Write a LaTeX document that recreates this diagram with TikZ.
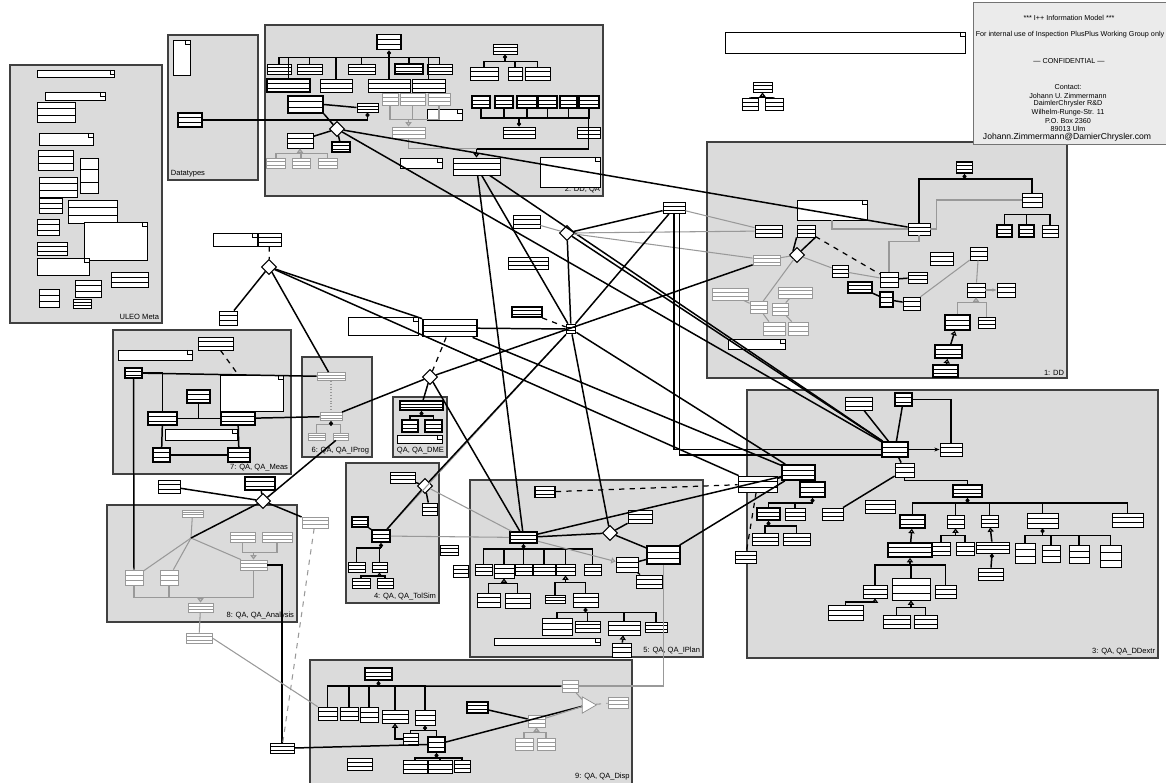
\documentclass[tikz,border=0pt]{standalone}
\usepackage{fontspec}
\setmainfont{Liberation Sans}
\usetikzlibrary{shapes.geometric,arrows.meta,calc}

\begin{document}
\begin{tikzpicture}[
    x=0.02cm, y=-0.02cm,
    pkg/.style={draw=black!75, line width=0.6pt, fill=black!14},
    plabel/.style={anchor=south east, inner sep=1.5pt, font=\fontsize{4.3}{5}\selectfont},
    info/.style={inner sep=0pt, font=\fontsize{4.1}{4.9}\selectfont},
    ht/.style={minimum height=#1*0.02cm},
    clsline/.style={black},
    cls/.style={draw, line width=0.45pt, fill=white, inner sep=0pt, minimum width=#1*0.02cm, minimum height=0.24cm,
        path picture={
            \draw[line width=0.3pt, clsline] ($(path picture bounding box.north west)!0.33!(path picture bounding box.south west)$) -- ($(path picture bounding box.north east)!0.33!(path picture bounding box.south east)$);
            \draw[line width=0.3pt, clsline] ($(path picture bounding box.north west)!0.68!(path picture bounding box.south west)$) -- ($(path picture bounding box.north east)!0.68!(path picture bounding box.south east)$);
        }},
    cls/.default=20,
    bcls/.style={cls=#1, line width=1pt},
    bcls/.default=20,
    gcls/.style={cls=#1, draw=black!40, clsline/.style={black!40}},
    gcls/.default=20,
    note/.style={draw, line width=0.45pt, fill=white, inner sep=0pt, minimum width=#1*0.02cm, minimum height=0.2cm,
        path picture={\draw[line width=0.3pt] ([xshift=-2.5pt]path picture bounding box.north east) -- ++(0,-2.5pt) -- ++(2.5pt,0);}},
    note/.default=40,
    dia/.style={diamond, draw, line width=0.6pt, fill=white, inner sep=0pt, minimum size=0.3cm},
    gtri/.style={isosceles triangle, isosceles triangle apex angle=60, draw=black!45, fill=white, inner sep=0pt, minimum height=0.28cm},
    con/.style={line width=0.85pt},
    gcon/.style={draw=black!40, line width=0.6pt},
    dcon/.style={dashed, line width=0.7pt},
    inh/.style={-{Triangle[open,length=2.5pt,width=3.5pt]}},
    comp/.style={-{Diamond[length=3pt,width=2.5pt]}}
]
    \useasboundingbox (0,0) rectangle (1166,783);

    % --- packages ---
    \draw[pkg] (10,65) rectangle (162,323);
    \node[plabel] (l-uleo) at (162,323) {ULEO Meta};
    \draw[pkg] (168,35) rectangle (258,180);
    \node[plabel, anchor=south west] (l-dt) at (168,180) {Datatypes};
    \draw[pkg] (265,25) rectangle (603,196);
    \node[plabel] (l-p2) at (603,196) {2: DD, QA};
    \draw[pkg] (707,142) rectangle (1067,378);
    \node[plabel] (l-p1) at (1067,378) {1: DD};
    \draw[pkg] (747,390) rectangle (1158,658);
    \node[plabel] (l-p3) at (1158,658) {3: QA, QA\_DDextr};
    \draw[pkg] (113,330) rectangle (291,474);
    \node[plabel] (l-p7) at (291,474) {7: QA, QA\_Meas};
    \draw[pkg] (302,357) rectangle (372,457);
    \node[plabel] (l-p6) at (372,457) {6: QA, QA\_IProg};
    \draw[pkg] (393,397) rectangle (447,457);
    \node[plabel] (l-dme) at (447,457) {QA, QA\_DME};
    \draw[pkg] (346,463) rectangle (439,603);
    \node[plabel] (l-p4) at (439,603) {4: QA, QA\_TolSim};
    \draw[pkg] (107,505) rectangle (297,622);
    \node[plabel] (l-p8) at (297,622) {8: QA, QA\_Analysis};
    \draw[pkg] (470,480) rectangle (703,657);
    \node[plabel] (l-p5) at (703,657) {5: QA, QA\_IPlan};
    \draw[pkg] (310,660) rectangle (632,795);
    \node[plabel, anchor=north east, inner sep=0pt] (l-p9) at (630,773) {9: QA, QA\_Disp};

    % --- info box ---
    \draw[draw=black!55, fill=black!8] (973,2) rectangle (1180,144);
    \node[info] (inf1) at (1069,18) {*** I++ Information Model ***};
    \node[info] (inf2) at (1070,35) {For internal use of Inspection PlusPlus Working Group only};
    \node[info] (inf3) at (1069,61) {--- CONFIDENTIAL ---};
    \node[info] (inf4) at (1068,87) {Contact:};
    \node[info] (inf5) at (1068,95.5) {Johann U. Zimmermann};
    \node[info] (inf6) at (1068,104) {DaimlerChrysler R\&D};
    \node[info] (inf7) at (1068,112.5) {Wilhelm-Runge-Str. 11};
    \node[info] (inf8) at (1068,121) {P.O. Box 2360};
    \node[info] (inf9) at (1068,129) {89013 Ulm};
    \node[info, font=\fontsize{4.9}{5.5}\selectfont] (inf10) at (1067,137.5) {Johann.Zimmermann@DamierChrysler.com};

    % --- top note and small tree ---
    \node[note=240, ht=21] (n-top) at (845,42.5) {};
    \node[cls=19, ht=10] (g1) at (762.5,87) {};
    \node[cls=16] (g2) at (750,104) {};
    \node[cls=18] (g3) at (774,104) {};

    % --- ULEO Meta ---
    \node[note=77, ht=7] (u-n1) at (76,73.5) {};
    \node[note=60, ht=8] (u-n2) at (75,96) {};
    \node[cls=38, ht=20] (u1) at (56,112) {};
    \node[note=54, ht=12] (u-n3) at (66,139) {};
    \node[cls=35, ht=20] (u2) at (55.5,160) {};
    \node[cls=18, ht=35] (u3) at (89,175.5) {};
    \node[cls=38, ht=20] (u4) at (58,187) {};
    \node[cls=23, ht=15] (u5) at (50.5,205.5) {};
    \node[cls=49, ht=23] (u6) at (92.5,211.5) {};
    \node[note=63, ht=38] (u-n4) at (115.5,241) {};
    \node[cls=22, ht=16] (u7) at (48,227) {};
    \node[cls=30, ht=13] (u8) at (52,248.5) {};
    \node[note=52, ht=17] (u-n5) at (63,266.5) {};
    \node[cls=37, ht=15] (u9) at (129.5,279.5) {};
    \node[cls=26, ht=17] (u10) at (88,288.5) {};
    \node[cls=20, ht=18] (u11) at (49,298) {};
    \node[cls=18, ht=9] (u12) at (82,303.5) {};

    % --- Datatypes ---
    \node[note=17, ht=35] (dt-n) at (181.5,57.5) {};
    \node[bcls=24, ht=14] (dt1) at (190,120) {};

    % --- 2: DD, QA ---
    \node[bcls=24, ht=15] (a0) at (389,42) {};
    \node[cls=24, ht=10] (a1) at (279,69) {};
    \node[cls=25, ht=10] (a2) at (309.5,69) {};
    \node[cls=27, ht=10] (a3) at (361.5,69) {};
    \node[bcls=28, ht=10] (a4) at (409,69) {};
    \node[cls=25, ht=10] (a5) at (439.5,69) {};
    \node[bcls=43, ht=13] (a6) at (288.5,85.5) {};
    \node[cls=32, ht=13] (a7) at (336,85.5) {};
    \node[cls=42, ht=13] (a8) at (389,85.5) {};
    \node[cls=33, ht=13] (a9) at (428.5,85.5) {};
    \node[bcls=35, ht=17] (a10) at (305.5,104.5) {};
    \node[cls=21, ht=9] (a11) at (367.5,107.5) {};
    \node[dia] (d2) at (337,129) {};
    \node[cls=26, ht=15] (a12) at (300,140.5) {};
    \node[bcls=18, ht=10] (a13) at (341,147) {};
    \node[gcls=19, ht=10] (a14) at (276,163) {};
    \node[gcls=18, ht=10] (a15) at (301,163) {};
    \node[gcls=19, ht=10] (a16) at (327.5,163) {};
    \node[gcls=16] (a17) at (390,99) {};
    \node[gcls=25] (a18) at (412.5,99) {};
    \node[gcls=22] (a19) at (439,99) {};
    \node[note=35, ht=11] (a-n1) at (444.5,114.5) {};
    \node[gcls=33, ht=11] (a20) at (408.5,132.5) {};
    \node[note=42, ht=10] (a-n2) at (421,163) {};
    \node[cls=47, ht=17] (a21) at (476.5,166.5) {};
    \node[note=60, ht=30] (a-n3) at (570,172) {};
    \node[cls=24, ht=10] (a22) at (505,49) {};
    \node[cls=28, ht=13] (a23) at (484,73.5) {};
    \node[cls=14, ht=13] (a24) at (515,73.5) {};
    \node[cls=25, ht=13] (a25) at (537.5,73.5) {};
    \node[bcls=18] (a26) at (481,102) {};
    \node[bcls=18] (a27) at (504,102) {};
    \node[bcls=20] (a28) at (527,102) {};
    \node[bcls=19] (a29) at (547.5,102) {};
    \node[bcls=17] (a30) at (568.5,102) {};
    \node[bcls=20] (a31) at (589,102) {};
    \node[cls=32, ht=11] (a32) at (519,132.5) {};
    \node[cls=23, ht=11] (a33) at (588.5,132.5) {};

    % --- middle ---
    \node[bcls=9, ht=9] (hb) at (571,329) {};
    \node[dia] (dx) at (567,233) {};
    \node[cls=27, ht=13] (m-x) at (526.5,221.5) {};
    \node[cls=40] (n-x) at (528,263) {};
    \node[bcls=30, ht=10] (b-x) at (527,312) {};
    \node[cls=22, ht=11] (h1) at (674,208) {};
    \node[bcls=54, ht=17] (h2) at (450,328) {};
    \node[note=70, ht=18] (n-h) at (383,326) {};
    \node[dia] (dl) at (269,267) {};
    \node[cls=23, ht=13] (k1) at (269.5,239.5) {};
    \node[note=44, ht=13] (n-k) at (235,239.5) {};
    \node[cls=18, ht=14] (k2) at (228,318) {};

    % --- 1: DD ---
    \node[bcls=16, ht=11] (t1) at (964.5,167.5) {};
    \node[cls=22] (c1) at (919,229) {};
    \node[cls=20, ht=14] (s1) at (1032,200) {};
    \node[bcls=15] (s2) at (1004.5,231) {};
    \node[bcls=15] (s3) at (1026.5,231) {};
    \node[cls=16] (s4) at (1050,231) {};
    \node[note=70, ht=20] (n-d1) at (832,210) {};
    \node[cls=27] (d1a) at (768.5,231) {};
    \node[cls=18] (d1b) at (806,231) {};
    \node[dia] (dd) at (797,255) {};
    \node[gcls=27, ht=10] (d1c) at (766.5,260) {};
    \node[cls=16] (d1d) at (840,271) {};
    \node[cls=18, ht=15] (d1e) at (889,279.5) {};
    \node[cls=19, ht=11] (d1f) at (917.5,277.5) {};
    \node[bcls=24, ht=11] (d1g) at (860,287.5) {};
    \node[bcls=13, ht=15] (d1h) at (886.5,299.5) {};
    \node[cls=17, ht=13] (d1i) at (911.5,303.5) {};
    \node[cls=23, ht=13] (d1j) at (941.5,258.5) {};
    \node[cls=17, ht=13] (d1k) at (978.5,253.5) {};
    \node[cls=18, ht=14] (d1l) at (976,290) {};
    \node[cls=18, ht=14] (d1m) at (1006,290) {};
    \node[cls=17, ht=11] (d1n) at (986.5,322.5) {};
    \node[bcls=25, ht=15] (d1o) at (957.5,322.5) {};
    \node[bcls=27, ht=13] (d1p) at (948.5,351.5) {};
    \node[bcls=25] (d1q) at (945.5,371) {};
    \node[gcls=36] (d1r) at (730,294) {};
    \node[gcls=34, ht=11] (d1s) at (795,292.5) {};
    \node[gcls=17] (d1t) at (758.5,307.5) {};
    \node[gcls=16] (d1u) at (780,309) {};
    \node[gcls=22, ht=13] (d1v) at (774,328.5) {};
    \node[gcls=20, ht=13] (d1w) at (798,328.5) {};
    \node[note=57] (n-d2) at (756.5,344) {};

    % --- 3: QA, QA_DDextr ---
    \node[cls=27, ht=13] (q-a) at (858.5,403.5) {};
    \node[bcls=17, ht=13] (q-b) at (903.5,399.5) {};
    \node[bcls=26, ht=15] (q0) at (895,449.5) {};
    \node[cls=22, ht=13] (q-c) at (951,449.5) {};
    \node[cls=19, ht=14] (q-d) at (904.5,470) {};
    \node[bcls=33, ht=15] (q1) at (798.5,472.5) {};
    \node[cls=39, ht=16] (q-e) at (757.5,484) {};
    \node[bcls=25, ht=15] (q-f) at (812.5,489.5) {};
    \node[bcls=23] (q-g) at (768.5,514) {};
    \node[cls=20] (q-h) at (795,514) {};
    \node[cls=21] (q-i) at (832.5,514) {};
    \node[cls=26] (q-j) at (765,539) {};
    \node[cls=27] (q-k) at (796.5,539) {};
    \node[cls=30, ht=13] (q-l) at (880,506.5) {};
    \node[cls=21] (q-m) at (745.5,557) {};
    \node[bcls=29] (q2) at (967.5,491) {};
    \node[bcls=25, ht=13] (q-n) at (912.5,521.5) {};
    \node[cls=17, ht=13] (q-o) at (955.5,521.5) {};
    \node[cls=17] (q-p) at (989.5,521) {};
    \node[cls=31, ht=15] (q-q) at (1042.5,520.5) {};
    \node[cls=31, ht=14] (q-r) at (1127.5,520) {};
    \node[bcls=44, ht=14] (q-s) at (910,550) {};
    \node[cls=18, ht=13] (q-t) at (941,548.5) {};
    \node[cls=18, ht=13] (q-u) at (965,548.5) {};
    \node[cls=33, ht=11] (q-v) at (992.5,547.5) {};
    \node[cls=20, ht=20] (q-w) at (1025,553) {};
    \node[cls=18, ht=17] (q-x) at (1051,553.5) {};
    \node[cls=20, ht=18] (q-y) at (1079,554) {};
    \node[cls=21, ht=22] (q-z) at (1110.5,556) {};
    \node[cls=25] (q-aa) at (990.5,574) {};
    \node[cls=24, ht=13] (q-ab) at (875,591.5) {};
    \node[cls=38, ht=22] (q-ac) at (911,589) {};
    \node[cls=21, ht=13] (q-ad) at (945.5,591.5) {};
    \node[cls=35, ht=15] (q-ae) at (845.5,612.5) {};
    \node[cls=27, ht=13] (q-af) at (896.5,621.5) {};
    \node[cls=23, ht=13] (q-ag) at (925.5,621.5) {};

    % --- 7: QA, QA_Meas ---
    \node[cls=35, ht=13] (m-a) at (215.5,343.5) {};
    \node[note=74, ht=10] (m-n1) at (155,355) {};
    \node[bcls=17, ht=10] (m0) at (133.5,373) {};
    \node[note=63, ht=36] (m-n2) at (251.5,393) {};
    \node[bcls=23, ht=13] (m-b) at (198.5,396.5) {};
    \node[bcls=29, ht=13] (m1) at (162.5,418.5) {};
    \node[bcls=34, ht=13] (m2) at (238,418.5) {};
    \node[note=72, ht=11] (m-n3) at (201,434.5) {};
    \node[bcls=17, ht=14] (m3) at (161.5,455) {};
    \node[bcls=22, ht=14] (m4) at (239,455) {};

    % --- 6: QA, QA_IProg and QA_DME ---
    \node[gcls=28, ht=8] (i1) at (331,376.5) {};
    \node[gcls=22, ht=8] (i2) at (331,416.5) {};
    \node[gcls=17, ht=7] (i3) at (316.5,436.5) {};
    \node[gcls=15, ht=7] (i4) at (340.5,436.5) {};
    \node[dia] (dd-e) at (430,377) {};
    \node[bcls=43, ht=9] (e0) at (421.5,405.5) {};
    \node[bcls=16] (e1) at (410,426) {};
    \node[bcls=17] (e2) at (433.5,426) {};
    \node[note=45, ht=8] (e-n) at (419.5,439) {};

    % --- 4: QA, QA_TolSim ---
    \node[cls=25, ht=11] (t-a) at (402.5,477.5) {};
    \node[dia] (td) at (425,486) {};
    \node[cls=15] (t-b) at (429.5,509) {};
    \node[bcls=16, ht=10] (t-c) at (360,522) {};
    \node[bcls=18] (t0) at (381,536) {};
    \node[cls=17, ht=10] (t-d) at (356.5,567) {};
    \node[cls=15, ht=10] (t-e) at (379.5,567) {};
    \node[cls=18, ht=10] (t-f) at (361,583) {};
    \node[cls=16, ht=10] (t-g) at (385,583) {};
    \node[cls=18, ht=10] (t-h) at (449,550) {};
    \node[cls=15] (t-i) at (460.5,571) {};

    % --- 8: QA, QA_Analysis ---
    \coordinate (anh) at (191,538);
    \node[dia] (ad) at (263,501) {};
    \node[gcls=21, ht=7] (an-a) at (192.5,513.5) {};
    \node[gcls=25, ht=10] (an-b) at (242.5,537) {};
    \node[gcls=30, ht=10] (an-c) at (277,537) {};
    \node[gcls=27, ht=10] (an-d) at (253.5,565) {};
    \node[gcls=18, ht=15] (an5) at (134,577.5) {};
    \node[gcls=18, ht=15] (an-e) at (169,577.5) {};
    \node[gcls=25, ht=9] (an-f) at (200.5,607.5) {};
    \node[gcls=26, ht=11] (an-g) at (315,522.5) {};
    \node[bcls=30, ht=13] (an-h) at (260,483.5) {};
    \node[cls=22, ht=13] (an-i) at (169,486.5) {};
    \node[gcls=26, ht=10] (x2) at (199,638) {};
    \node[cls=24, ht=10] (x1) at (282,748) {};

    % --- 5: QA, QA_IPlan ---
    \node[bcls=20, ht=11] (p-a) at (545,492) {};
    \node[cls=24, ht=13] (p-b) at (640,516.5) {};
    \node[bcls=27, ht=11] (p0) at (523.5,537.5) {};
    \node[dia] (pd) at (610,533) {};
    \node[bcls=33, ht=18] (p-c) at (663.5,555) {};
    \node[cls=22, ht=15] (p-d) at (627,564.5) {};
    \node[cls=26, ht=13] (p-e) at (649,581.5) {};
    \node[cls=17, ht=11] (p1) at (483.5,569.5) {};
    \node[cls=20, ht=14] (p2) at (504,571) {};
    \node[cls=17, ht=11] (p3) at (523.5,569.5) {};
    \node[cls=22, ht=11] (p4) at (544,569.5) {};
    \node[cls=19, ht=11] (p5) at (565.5,569.5) {};
    \node[cls=17, ht=11] (p6) at (592.5,569.5) {};
    \node[cls=23, ht=14] (p7) at (488.5,600) {};
    \node[cls=25, ht=15] (p8) at (517.5,600.5) {};
    \node[cls=20, ht=8] (p9) at (555,599) {};
    \node[cls=25, ht=14] (p10) at (585.5,600) {};
    \node[cls=30, ht=17] (p11) at (557,626.5) {};
    \node[cls=25, ht=11] (p12) at (587.5,626.5) {};
    \node[cls=32, ht=14] (p13) at (624,628) {};
    \node[cls=22, ht=10] (p14) at (656,627) {};
    \node[cls=19, ht=14] (p15) at (621.5,650) {};
    \node[note=106, ht=7] (p-n) at (547,641.5) {};

    % --- 9: QA, QA_Disp ---
    \node[bcls=27] (y-a) at (378.5,674) {};
    \node[cls=19, ht=13] (y1) at (327.5,713.5) {};
    \node[cls=18, ht=13] (y2) at (349,713.5) {};
    \node[cls=18, ht=15] (y3) at (369,714.5) {};
    \node[cls=26, ht=13] (y4) at (395,716.5) {};
    \node[cls=20, ht=15] (y5) at (425,717.5) {};
    \node[cls=15] (y6) at (410.5,739) {};
    \node[bcls=17, ht=15] (y0) at (436.5,744.5) {};
    \node[cls=25] (y7) at (359.5,764) {};
    \node[cls=24, ht=13] (y8) at (415,766.5) {};
    \node[cls=24, ht=13] (y9) at (440,766.5) {};
    \node[cls=16] (y10) at (462,766) {};
    \node[bcls=21, ht=11] (y-b) at (477.5,707.5) {};
    \node[gcls=16] (y-g) at (570,686) {};
    \node[gcls=17] (y-h) at (536.5,721) {};
    \node[gcls=18] (y-i) at (524,744) {};
    \node[gcls=18] (y-j) at (546,744) {};
    \node[gtri] (tr) at (587,705) {};
    \node[gcls=20, ht=11] (y-k) at (618,702.5) {};

    % --- trees inside packages ---
    \foreach \c in {g2,g3} \draw[con] (\c.north) |- ([yshift=-3pt]g1.south);
    \draw[con,inh] ([yshift=-3pt]g1.south) -- (g1.south);
    \foreach \c in {a1,a2,a3,a4,a5,a6,a7,a8,a9} \draw[con] (\c.north) |- ([yshift=-4pt]a0.south);
    \draw[con,comp] ([yshift=-4pt]a0.south) -- (a0.south);
    \foreach \c in {a23,a24,a25} \draw[con] (\c.north) |- ([yshift=-4pt]a22.south);
    \draw[con,comp] ([yshift=-4pt]a22.south) -- (a22.south);
    \foreach \c in {a26,a27,a28,a29,a30,a31,a33} \draw[con] (\c.south) |- ([yshift=5pt]a32.north);
    \draw[con,comp] ([yshift=5pt]a32.north) -- (a32.north);
    \foreach \c in {a14,a15,a16} \draw[gcon] (\c.north) |- ([yshift=-3pt]a12.south);
    \draw[gcon,inh] ([yshift=-3pt]a12.south) -- (a12.south);
    \foreach \c in {a17,a18,a19} \draw[gcon] (\c.south) |- ([yshift=4pt]a20.north);
    \draw[gcon,inh] ([yshift=4pt]a20.north) -- (a20.north);
    \draw[gcon] (a20.south) |- ([yshift=5pt]a21.north);
    \draw[con] (a33.south) |- ([yshift=5pt]a21.north);
    \draw[con,inh] ([yshift=5pt]a21.north) -- (a21.north);
    \draw[con] (a10.east) -- (a11.west);
    \draw[con,comp] (dt1.east) -| (a11.south);
    \draw[con] (a10.south east) -- (d2);
    \draw[con] (d2) -- (a12);
    \draw[con] (d2) -- (a13);

    \draw[con] (c1.north) |- ([yshift=-3pt]t1.south);
    \draw[con] (s1.north) |- ([yshift=-3pt]t1.south);
    \draw[con,comp] ([yshift=-3pt]t1.south) -- (t1.south);
    \foreach \c in {s2,s3,s4} \draw[con] (\c.north) |- ([yshift=-4pt]s1.south);
    \draw[gcon] (c1.east) -- ++(6,0) |- (s1.west);
    \draw[gcon] (n-d1.south) |- (c1.west);
    \draw[gcon] (c1.south) -- ++(0,6) -| (d1e.north);
    \draw[con] (dd.north west) -- (d1b.south west);
    \draw[con] (dd.north east) -- (d1b.south east);
    \draw[gcon] (dd) -- (d1d);
    \draw[gcon] (dd) -- (d1c);
    \draw[gcon] (dd) -- (d1t);
    \draw[dcon] (d1b) -- (d1e);
    \draw[gcon] (d1d) -- (d1e);
    \draw[con] (d1e) -- (d1f);
    \draw[con] (d1g) -- (d1h);
    \draw[con] (d1h) -- (d1i);
    \draw[gcon] (d1i) -- (d1k);
    \draw[gcon] (d1k) -- (d1l);
    \draw[gcon,-{Stealth[length=2.5pt]}] (d1l) -- (d1m);
    \foreach \c in {d1o,d1n} \draw[gcon] (\c.north) |- ([yshift=-3pt]d1l.south);
    \draw[gcon,inh] ([yshift=-3pt]d1l.south) -- (d1l.south);
    \draw[con,inh] (d1p) -- (d1o);
    \draw[con,inh] (d1q) -- (d1p);
    \draw[gcon] (d1t) -- (d1v);
    \draw[gcon] (d1u) -- (d1w);
    \draw[gcon] (d1r) -- (d1t);
    \draw[gcon] (d1s) -- (d1u);

    \draw[con] (q-a) -- (q0);
    \draw[con] (q-b) -- (q0);
    \draw[con] (q-b.east) -| (q-c.north);
    \draw[con,-{Stealth[length=3pt]}] (q0) -- (q-c);
    \draw[con] (q0) -- (q-d);
    \draw[con] (q-d.south) -- ++(0,3) -| (q2.north);
    \foreach \c in {q-n,q-o,q-p,q-q,q-r} \draw[con] (\c.north) |- ([yshift=-3pt]q2.south);
    \draw[con,comp] ([yshift=-3pt]q2.south) -- (q2.south);
    \draw[con,inh] (q-s) -- (q-n);
    \foreach \c in {q-t,q-u} \draw[con] (\c.north) |- ([yshift=-4pt]q-o.south);
    \draw[con,inh] ([yshift=-4pt]q-o.south) -- (q-o.south);
    \draw[con,inh] (q-v) -- (q-p);
    \draw[con,comp] (q-aa) -- (q-v);
    \foreach \c in {q-w,q-x,q-y,q-z} \draw[con] (\c.north) |- ([yshift=-4pt]q-q.south);
    \draw[con,comp] ([yshift=-4pt]q-q.south) -- (q-q.south);
    \foreach \c in {q-ab,q-ac,q-ad} \draw[con] (\c.north) |- ([yshift=-4pt]q-s.south);
    \draw[con,inh] ([yshift=-4pt]q-s.south) -- (q-s.south);
    \draw[con] (q-ae.north) |- ([yshift=-2pt]q-ab.south);
    \draw[con,inh] ([yshift=-2pt]q-ab.south) -- (q-ab.south);
    \foreach \c in {q-af,q-ag} \draw[con] (\c.north) |- ([yshift=-4pt]q-ac.south);
    \draw[con,inh] ([yshift=-4pt]q-ac.south) -- (q-ac.south);
    \draw[con] (q-e) -- (q1);
    \draw[con] (q1) -- (q-f);
    \foreach \c in {q-g,q-h} \draw[con] (\c.north) |- ([yshift=-3pt]q-f.south);
    \draw[con,comp] ([yshift=-3pt]q-f.south) -- (q-f.south);
    \foreach \c in {q-j,q-k} \draw[con] (\c.north) |- ([yshift=-3pt]q-g.south);
    \draw[con,comp] ([yshift=-3pt]q-g.south) -- (q-g.south);
    \draw[con] (q-i) -- (q-d);
    \draw[dcon] (q-e) -- (q-m);

    \draw[con] (m1.north) |- (m0.east);
    \draw[con] (m1.east) -- (m2.west);
    \draw[con] (m-b.south) -- (m-b |- m1);
    \draw[con] (m1) -- (m3);
    \draw[con] (m2) -- (m4);
    \draw[con] (m3) -- (m4);
    \draw[dcon] (m-a) -- (m-n2);
    \draw[gcon, densely dotted] (i1) -- (i2);
    \foreach \c in {i3,i4} \draw[gcon] (\c.north) |- ([yshift=-2pt]i2.south);
    \draw[con,comp] ([yshift=-2pt]i2.south) -- (i2.south);
    \foreach \c in {e1,e2} \draw[con] (\c.north) |- ([yshift=-3pt]e0.south);
    \draw[con,comp] ([yshift=-3pt]e0.south) -- (e0.south);

    \draw[con] (t-c) -- (t0);
    \foreach \c in {t-d,t-e} \draw[con] (\c.north) |- ([yshift=-3pt]t0.south);
    \draw[con,comp] ([yshift=-3pt]t0.south) -- (t0.south);
    \foreach \c in {t-f,t-g} \draw[con] (\c.north) |- ([yshift=-2pt]t-e.south);
    \draw[con,inh] ([yshift=-2pt]t-e.south) -- (t-e.south);

    \draw[gcon] (anh) -- (an-a);
    \draw[gcon] (anh) -- (an5);
    \draw[gcon] (anh) -- (an-e);
    \draw[gcon] (anh) -- (an-d);
    \foreach \c in {an-b,an-c} \draw[gcon] (\c.south) |- ([yshift=4pt]an-d.north);
    \draw[gcon,inh] ([yshift=4pt]an-d.north) -- (an-d.north);
    \foreach \c in {an5,an-e,an-d} \draw[gcon] (\c.south) |- ([yshift=3pt]an-f.north);
    \draw[gcon,inh] ([yshift=3pt]an-f.north) -- (an-f.north);

    \foreach \c in {p1,p2,p3,p4,p5,p6} \draw[con] (\c.north) |- ([yshift=-3pt]p0.south);
    \draw[con,comp] ([yshift=-3pt]p0.south) -- (p0.south);
    \foreach \c in {p7,p8} \draw[con] (\c.north) |- ([yshift=-3pt]p2.south);
    \draw[con,inh] ([yshift=-3pt]p2.south) -- (p2.south);
    \foreach \c in {p9,p10} \draw[con] (\c.north) |- ([yshift=-4pt]p5.south);
    \draw[con,inh] ([yshift=-4pt]p5.south) -- (p5.south);
    \foreach \c in {p11,p12,p13,p14} \draw[con] (\c.north) |- ([yshift=-3pt]p10.south);
    \draw[con,comp] ([yshift=-3pt]p10.south) -- (p10.south);
    \draw[con,inh] (p15) -- (p13);
    \draw[con] (pd) -- (p0);
    \draw[con] (pd) -- (p-c);
    \draw[con] (pd) -- (p-b);
    \draw[con] (p-c) -- (p-d);
    \draw[dcon] (p-d) -- (p-e);
    \draw[gcon,inh] (p0) -- (p-d);

    \foreach \c in {y1,y2,y3,y4,y5} \draw[con] (\c.north) |- ([yshift=-3pt]y-a.south);
    \draw[con] ([yshift=-3pt]y-a.south) -- (y-g.west);
    \draw[con,comp] ([yshift=-3pt]y-a.south) -- (y-a.south);
    \draw[con,inh] (y6.west) -| (y4.south);
    \foreach \c in {y0,y6} \draw[con] (\c.north) |- ([yshift=-3pt]y5.south);
    \draw[con,comp] ([yshift=-3pt]y5.south) -- (y5.south);
    \foreach \c in {y8,y9,y10} \draw[con] (\c.north) |- ([yshift=-3pt]y0.south);
    \draw[con,comp] ([yshift=-3pt]y0.south) -- (y0.south);
    \draw[con] (y-b) -- (y-h);
    \foreach \c in {y-i,y-j} \draw[gcon] (\c.north) |- ([yshift=-3pt]y-h.south);
    \draw[gcon,inh] ([yshift=-3pt]y-h.south) -- (y-h.south);

    % --- connectors between packages ---
    \draw[con] (d2) -- (c1);
    \draw[con] (d2) -- (q0);
    \draw[con] (a21) -- (hb);
    \draw[con] (a21) -- (q0);
    \draw[con] (a21) -- (p0);
    \draw[con] (dx) -- (hb);
    \draw[gcon] (dx) -- (m-x);
    \draw[con] (dx) -- (h1);
    \draw[gcon] (dx) -- (d1a);
    \draw[gcon] (dx) -- (d1c);
    \draw[con] (dx) -- (q0);
    \draw[gcon] (h1) -- (d1a);
    \draw[con] (h1.south) |- (q0.west);
    \draw[con] ([xshift=3pt]h1.south) |- ([yshift=-3pt]q0.west);
    \draw[con] (hb) -- (h1);
    \draw[con] (hb) -- (q1);
    \draw[con] (hb) -- (pd);
    \draw[gcon] (hb) -- (t0);
    \draw[con] (hb) -- (td);
    \draw[con] (h2) -- (hb);
    \draw[dcon] (b-x) -- (hb);
    \draw[dcon] (h2) -- (dd-e);
    \draw[con] (h2) -- (q1);
    \draw[con] (dd-e) -- (d1c);
    \draw[con] (dd-e) -- (e0);
    \draw[con] (dd-e) -- (i2);
    \draw[con] (dd-e) -- (p0);
    \draw[dcon] (k1) -- (dl);
    \draw[con] (dl) -- (k2);
    \draw[con] (dl) -- (i1);
    \draw[con] (dl) -- (h2);
    \draw[con] (dl) -- (q-e);
    \draw[con] (m0) -- (i1);
    \draw[con] (m2) -- (i2);
    \draw[con] (m0.south) -- (an5.north);
    \draw[con] (td) -- (t-a);
    \draw[con] (td) -- (t-b);
    \draw[con] (td) -- (t0);
    \draw[gcon] (td) -- (p0);
    \draw[gcon] (t0) -- (p0);
    \draw[con] (anh) -- (ad);
    \draw[con] (ad) -- (an-g);
    \draw[con] (ad) -- (an-h);
    \draw[con] (ad) -- (an-i);
    \draw[con] (ad) -- (i4);
    \draw[con] (an-d.east) -| (x1.north);
    \draw[con] (x1.east) -- (y0.west);
    \draw[gcon, dashed] (an-g) -- (x1);
    \draw[gcon] (an-f) -- (x2);
    \draw[gcon] (x2.east) -- (y1.north west);
    \draw[dcon] (p-a) -- (q-e);
    \draw[con] (p0) -- (q1);
    \draw[con] (p-c) -- (q1);
    \draw[gcon] (p-c.south) |- (y-g.east);
    \draw[con] (y0) -- (tr);
    \draw[gcon] (y-g) -- (tr);
    \draw[gcon] (y-h) -- (tr);
    \draw[gcon, dashed] (tr) -- (y-k);
\end{tikzpicture}
\end{document}
